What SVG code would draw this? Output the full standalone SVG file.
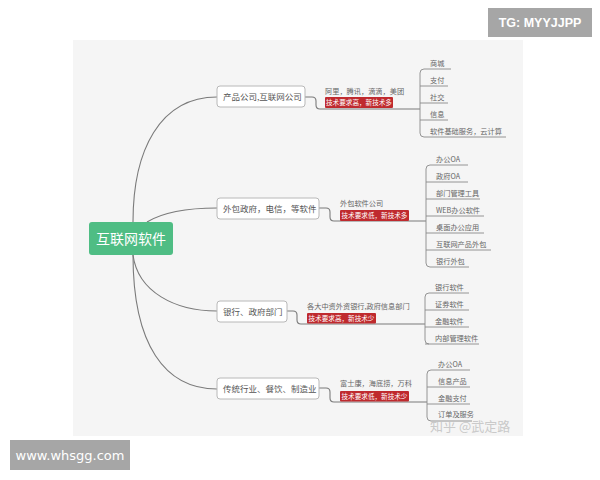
<svg xmlns="http://www.w3.org/2000/svg" width="600" height="480" viewBox="0 0 600 480">
<style>
text{font-family:"Noto Sans CJK SC","Noto Sans",sans-serif}
.conn{fill:none;stroke:#7a7a7a;stroke-width:1.1}
.ul{fill:none;stroke:#8a8a8a;stroke-width:0.9}
.box{fill:#fff;stroke:#b8b8b8;stroke-width:1}
.nt{font-size:8.5px;fill:#555}
.lb{font-size:7.2px;fill:#666}
.ch{font-size:7.2px;fill:#666}
.red{fill:#bf2a2e}
.rt{font-size:6.6px;fill:#fff}
</style>
<rect x="0" y="0" width="600" height="480" fill="#ffffff"/>
<rect x="73" y="40" width="450" height="396" fill="#f5f5f5"/>

<g id="connectors">
<path class="conn" d="M133,222 C133,150 160,97 217,97"/>
<path class="conn" d="M147,222 C165,211 190,208 217,208"/>
<path class="conn" d="M133,255 C138,292 175,311 217,311"/>
<path class="conn" d="M133,255 C133,345 165,389 217,389"/>
<path class="conn" d="M305,97 L312,97 Q316,97 316,101 L316,105 Q316,109 320,109 L420,109"/>
<path class="conn" d="M319,208 L326,208 Q330,208 330,212 L330,217 Q330,221 334,221 L426,221"/>
<path class="conn" d="M287,311 L293,311 Q297,311 297,315 L297,320 Q297,324 301,324 L425,324"/>
<path class="conn" d="M319,388 L326,388 Q330,388 330,392 L330,398 Q330,402 334,402 L427,402"/>
<path class="ul" d="M424,69 Q420,69 420,73 L420,133 Q420,137 424,137"/>
<path class="ul" d="M430,165 Q426,165 426,169 L426,263 Q426,267 430,267"/>
<path class="ul" d="M429,293 Q425,293 425,297 L425,340 Q425,344 429,344"/>
<path class="ul" d="M431,370 Q427,370 427,374 L427,417 Q427,421 431,421"/>
</g>

<g id="root">
<rect x="89" y="222" width="84" height="33" rx="3" fill="#4fbd84"/>
<text x="131" y="243.5" text-anchor="middle" font-size="14" fill="#fff">互联网软件</text>
</g>

<g id="branch1">
<rect class="box" x="217" y="86" width="88" height="21" rx="3"/>
<text class="nt" x="223" y="99.5">产品公司,互联网公司</text>
<text class="lb" x="325" y="94">阿里，腾讯，滴滴，美团</text>
<rect class="red" x="325" y="97" width="68" height="11" rx="1"/>
<text class="rt" x="359" y="105" text-anchor="middle">技术要求高，新技术多</text>
<g id="b1-children">
<path class="ul" d="M424,69H451 M420,86H448 M420,103H448 M420,120H448 M424,137H506"/>
<text class="ch" x="430" y="66">商城</text>
<text class="ch" x="430" y="83">支付</text>
<text class="ch" x="430" y="100">社交</text>
<text class="ch" x="430" y="117">信息</text>
<text class="ch" x="430" y="134">软件基础服务，云计算</text>
</g>
</g>

<g id="branch2">
<rect class="box" x="217" y="198" width="102" height="21" rx="3"/>
<text class="nt" x="223" y="211.5">外包政府，电信，等软件</text>
<text class="lb" x="340" y="206">外包软件公司</text>
<rect class="red" x="340" y="210" width="69" height="11" rx="1"/>
<text class="rt" x="374.5" y="218" text-anchor="middle">技术要求低，新技术多</text>
<g id="b2-children">
<path class="ul" d="M430,165H468 M426,182H468 M426,199H480 M426,216H484 M426,233H484 M426,250H491 M430,267H469"/>
<text class="ch" x="436" y="162">办公OA</text>
<text class="ch" x="436" y="179">政府OA</text>
<text class="ch" x="436" y="196">部门管理工具</text>
<text class="ch" x="436" y="213">WEB办公软件</text>
<text class="ch" x="436" y="230">桌面办公应用</text>
<text class="ch" x="436" y="247">互联网产品外包</text>
<text class="ch" x="436" y="264">银行外包</text>
</g>
</g>

<g id="branch3">
<rect class="box" x="217" y="301" width="70" height="21" rx="3"/>
<text class="nt" x="223" y="314.5">银行、政府部门</text>
<text class="lb" x="307" y="308.5">各大中资外资银行,政府信息部门</text>
<rect class="red" x="307" y="313" width="69" height="10.5" rx="1"/>
<text class="rt" x="341.5" y="321" text-anchor="middle">技术要求高，新技术少</text>
<g id="b3-children">
<path class="ul" d="M429,293H469 M425,310H469 M425,327H469 M425,344H479"/>
<text class="ch" x="435" y="290">银行软件</text>
<text class="ch" x="435" y="307">证券软件</text>
<text class="ch" x="435" y="324">金融软件</text>
<text class="ch" x="435" y="341">内部管理软件</text>
</g>
</g>

<g id="branch4">
<rect class="box" x="217" y="378" width="102" height="21" rx="3"/>
<text class="nt" x="223" y="391.5">传统行业、餐饮、制造业</text>
<text class="lb" x="340" y="386">富士康，海底捞，万科</text>
<rect class="red" x="340" y="391" width="69" height="10.5" rx="1"/>
<text class="rt" x="374.5" y="399" text-anchor="middle">技术要求低，新技术少</text>
<g id="b4-children">
<path class="ul" d="M431,370H470 M427,387H470 M427,404H470 M431,421H472"/>
<text class="ch" x="438" y="367">办公OA</text>
<text class="ch" x="438" y="384">信息产品</text>
<text class="ch" x="438" y="401">金融支付</text>
<text class="ch" x="438" y="417" fill="#888">订单及服务</text>
</g>
</g>

<text x="430" y="431" font-size="13" fill="#c4c4c4" fill-opacity="0.9">知乎 @武定路</text>

<g id="tg-badge">
<rect x="488" y="8" width="104" height="29" fill="#a6a6a6"/>
<text x="540" y="27" text-anchor="middle" font-size="12.5" font-weight="bold" fill="#fff" style="font-family:'Liberation Sans',Arial,sans-serif">TG: MYYJJPP</text>
</g>
<g id="url-badge">
<rect x="10" y="440" width="120" height="30" fill="#a6a6a6"/>
<text x="70" y="459.5" text-anchor="middle" font-size="13" fill="#fff" style="font-family:'DejaVu Sans',sans-serif">www.whsgg.com</text>
</g>
</svg>
